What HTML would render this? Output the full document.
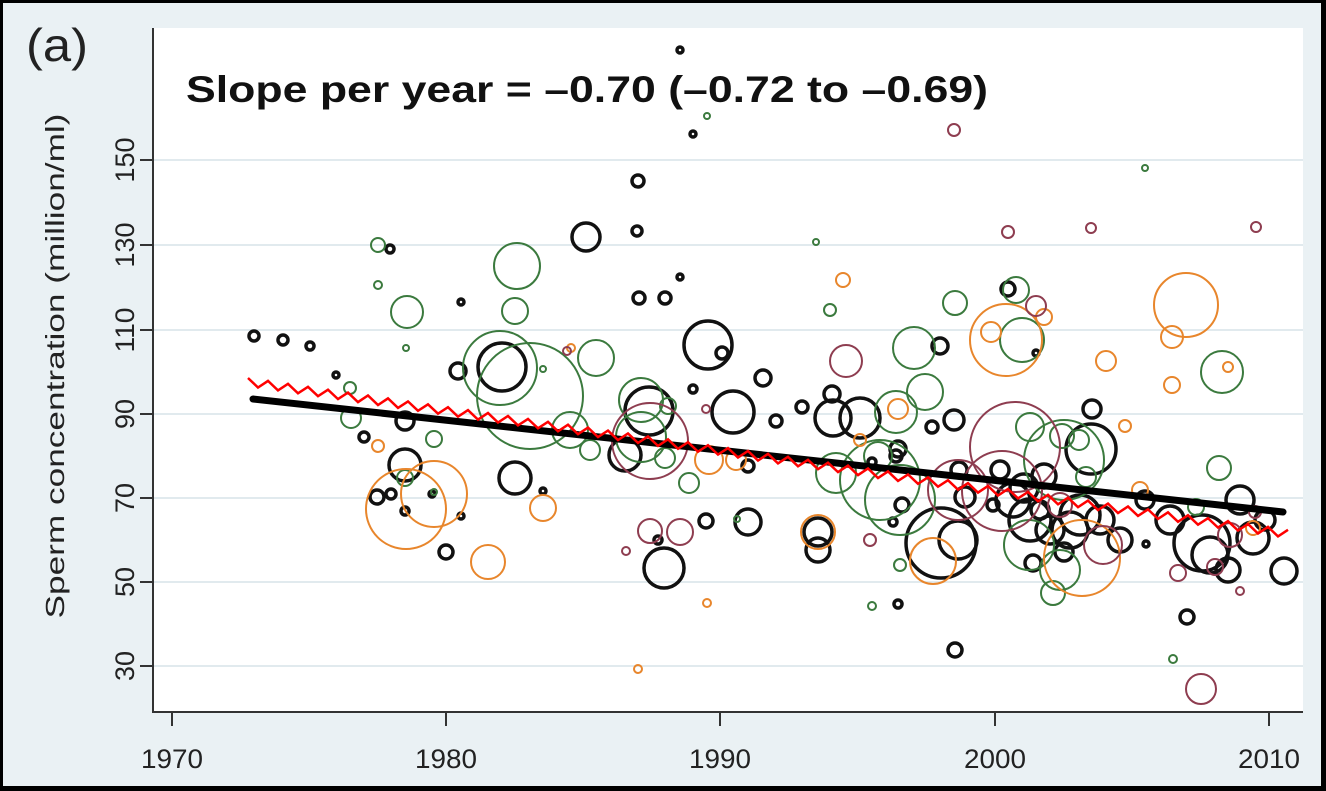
<!DOCTYPE html>
<html><head><meta charset="utf-8"><style>
html,body{margin:0;padding:0;}
body{width:1326px;height:791px;overflow:hidden;background:#000;}
</style></head><body>
<svg id="s" width="1326" height="791" xmlns="http://www.w3.org/2000/svg" style="display:block">
<rect x="0" y="0" width="1326" height="791" fill="#000"/>
<rect x="3" y="3" width="1318" height="783" fill="#eaf1f4"/>
<rect x="153" y="28" width="1150" height="684" fill="#fff"/>
<g stroke="#e1eaee" stroke-width="2">
<line x1="153" y1="160" x2="1303" y2="160"/><line x1="153" y1="245" x2="1303" y2="245"/>
<line x1="153" y1="330" x2="1303" y2="330"/><line x1="153" y1="414" x2="1303" y2="414"/>
<line x1="153" y1="498" x2="1303" y2="498"/><line x1="153" y1="582" x2="1303" y2="582"/>
<line x1="153" y1="666" x2="1303" y2="666"/>
</g>
<g id="circ" fill="none"></g>
<line x1="253" y1="399" x2="1283" y2="512" stroke="#000" stroke-width="7" stroke-linecap="round"/>
<polyline id="zz" fill="none" stroke="#ff0000" stroke-width="2.5" points=""/>
<g stroke="#333" stroke-width="2">
<line x1="153" y1="28" x2="153" y2="713"/><line x1="152" y1="712" x2="1303" y2="712"/>
<line x1="140" y1="160" x2="153" y2="160"/><line x1="140" y1="245" x2="153" y2="245"/>
<line x1="140" y1="330" x2="153" y2="330"/><line x1="140" y1="414" x2="153" y2="414"/>
<line x1="140" y1="498" x2="153" y2="498"/><line x1="140" y1="582" x2="153" y2="582"/>
<line x1="140" y1="666" x2="153" y2="666"/>
<line x1="172" y1="712" x2="172" y2="726"/><line x1="446" y1="712" x2="446" y2="726"/>
<line x1="720" y1="712" x2="720" y2="726"/><line x1="995" y1="712" x2="995" y2="726"/>
<line x1="1269" y1="712" x2="1269" y2="726"/>
</g>
<g font-family="Liberation Sans, sans-serif" font-size="27" fill="#222" text-anchor="middle">
<text x="172" y="768" textLength="62" lengthAdjust="spacingAndGlyphs">1970</text>
<text x="446" y="768" textLength="62" lengthAdjust="spacingAndGlyphs">1980</text>
<text x="720" y="768" textLength="62" lengthAdjust="spacingAndGlyphs">1990</text>
<text x="995" y="768" textLength="62" lengthAdjust="spacingAndGlyphs">2000</text>
<text x="1269" y="768" textLength="62" lengthAdjust="spacingAndGlyphs">2010</text>
<g transform="translate(134,0)">
<text transform="translate(0,160) rotate(-90)" textLength="45" lengthAdjust="spacingAndGlyphs">150</text>
<text transform="translate(0,245) rotate(-90)" textLength="45" lengthAdjust="spacingAndGlyphs">130</text>
<text transform="translate(0,330) rotate(-90)" textLength="45" lengthAdjust="spacingAndGlyphs">110</text>
<text transform="translate(0,414) rotate(-90)" textLength="30" lengthAdjust="spacingAndGlyphs">90</text>
<text transform="translate(0,498) rotate(-90)" textLength="30" lengthAdjust="spacingAndGlyphs">70</text>
<text transform="translate(0,582) rotate(-90)" textLength="30" lengthAdjust="spacingAndGlyphs">50</text>
<text transform="translate(0,666) rotate(-90)" textLength="30" lengthAdjust="spacingAndGlyphs">30</text>
</g>
<text transform="translate(64,366) rotate(-90)" font-size="26" textLength="505" lengthAdjust="spacingAndGlyphs">Sperm concentration (million/ml)</text>
</g>
<text x="26" y="61" font-family="Liberation Sans, sans-serif" font-size="46" fill="#222" textLength="62" lengthAdjust="spacingAndGlyphs">(a)</text>
<text x="186" y="102" font-family="Liberation Sans, sans-serif" font-size="37" font-weight="bold" fill="#111" textLength="802" lengthAdjust="spacingAndGlyphs">Slope per year = –0.70 (–0.72 to –0.69)</text>
</svg>
<script>
var C={k:"#111",g:"#3b7a3e",o:"#e8862c",m:"#8e3d50"};
var d=[
["k",254,336,5],["k",283,340,5],["k",310,346,4],["k",336,375,3],["k",364,437,5],["k",377,497,7],["k",390,249,4],["k",391,494,5],["k",405,421,9],["k",405,465,16],["k",405,511,4],["k",432,494,3],["k",446,552,7],["k",458,371,8],["k",461,516,3],["k",461,302,3],["k",502,367,24],["k",515,478,16],["k",543,491,3],["k",586,237,14],["k",637,231,5],["k",639,298,6],["k",665,298,6],["k",680,50,3],["k",638,181,6],["k",680,277,3],["k",693,134,3],["k",693,389,4],["k",708,345,24],["k",722,353,6],["k",625,455,16],["k",649,411,24],["k",664,568,20],["k",658,540,4],["k",706,521,7],["k",733,412,21],["k",748,522,13],["k",748,466,6],["k",763,378,8],["k",776,421,6],["k",802,407,6],["k",818,532,14],["k",818,550,12],["k",832,394,8],["k",833,418,18],["k",860,418,20],["k",872,462,4],["k",898,604,4],["k",898,449,8],["k",940,346,8],["k",932,427,6],["k",954,420,10],["k",955,650,7],["k",1008,289,7],["k",1036,353,3],["k",993,505,6],["k",1146,544,3],["k",1187,617,7],["k",1202,543,28],["k",1210,555,18],["k",1228,570,12],["k",1253,538,16],["k",1284,571,13],["k",1091,449,25],["k",1092,409,9],["k",1070,530,18],["k",1080,515,20],["k",1030,520,21],["k",1033,563,8],["k",1064,552,9],["k",1024,488,14],["k",1044,476,12],["k",1013,500,17],["k",941,543,35],["k",958,540,19],["k",959,470,8],["k",965,497,10],["k",893,522,4],["k",896,456,6],["k",1240,500,14],["k",1265,520,10],["k",1000,470,9],["k",1050,530,14],["k",1100,520,14],["k",1120,540,12],["k",1170,520,14],["k",1145,500,9],["k",1040,510,9],["k",902,505,7],
["g",378,245,7],["g",378,285,4],["g",407,312,16],["g",406,348,3],["g",350,388,6],["g",351,418,10],["g",434,439,8],["g",434,492,3],["g",517,266,23],["g",515,311,13],["g",543,369,3],["g",530,396,53],["g",500,368,37],["g",596,358,18],["g",570,430,18],["g",590,450,10],["g",641,400,22],["g",641,437,25],["g",665,458,10],["g",668,406,8],["g",689,483,10],["g",707,116,3],["g",737,519,3],["g",816,242,3],["g",830,310,6],["g",836,473,20],["g",878,456,14],["g",896,412,21],["g",925,392,18],["g",914,348,21],["g",955,303,12],["g",1016,290,13],["g",1022,340,22],["g",1030,427,14],["g",1029,545,25],["g",1053,593,12],["g",1062,436,12],["g",1079,440,10],["g",1086,477,10],["g",1222,372,21],["g",1173,659,4],["g",1145,168,3],["g",1064,460,40],["g",880,480,40],["g",900,500,35],["g",1219,468,12],["g",1196,507,8],["g",872,606,4],["g",900,565,6],["g",1060,570,20],["g",405,478,8],
["o",406,509,40],["o",434,494,33],["o",543,508,13],["o",488,562,17],["o",571,348,4],["o",638,669,4],["o",707,603,4],["o",709,460,14],["o",736,460,10],["o",843,280,7],["o",818,532,17],["o",898,409,10],["o",933,561,23],["o",1006,340,36],["o",991,332,10],["o",1044,317,8],["o",1106,361,10],["o",1125,426,6],["o",1186,305,32],["o",1172,337,11],["o",1172,385,8],["o",1228,367,5],["o",1082,558,38],["o",1253,528,7],["o",378,446,6],["o",860,440,6],["o",1140,490,8],
["m",567,351,4],["m",626,551,4],["m",650,441,38],["m",650,531,12],["m",680,532,13],["m",706,409,4],["m",846,361,16],["m",870,540,6],["m",1008,232,6],["m",954,130,6],["m",1015,447,45],["m",958,490,30],["m",1036,306,10],["m",1091,228,5],["m",1256,227,5],["m",1103,545,19],["m",1215,567,8],["m",1201,689,15],["m",1240,591,4],["m",1230,535,12],["m",1178,573,8],["m",1255,512,6],["m",1002,491,40],["m",1060,505,12]
];
var g=document.getElementById("circ"),h="";
d.forEach(function(a){h+='<circle cx="'+a[1]+'" cy="'+a[2]+'" r="'+a[3]+'" stroke="'+C[a[0]]+'" stroke-width="'+(a[0]=="k"?3.5:2)+'"/>';});
g.innerHTML=h;
var p=[];for(var i=0;i<=105;i++){var x=248+10*i;if(x>1296)break;var y=382+0.146*(x-248)+(i%2?4:-4);p.push(x+","+y.toFixed(1));}
document.getElementById("zz").setAttribute("points",p.join(" "));
</script>
</body></html>
